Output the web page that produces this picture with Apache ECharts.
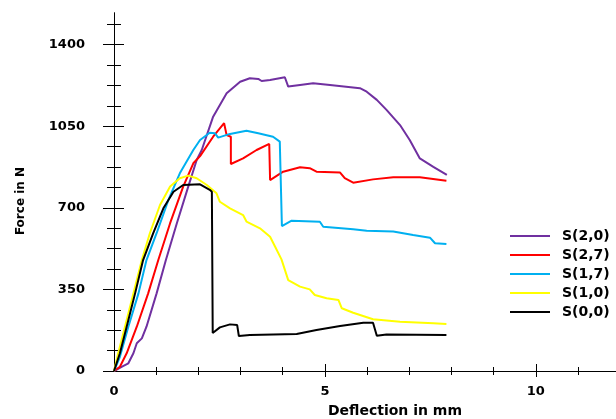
<!DOCTYPE html>
<html>
<head>
<meta charset="utf-8">
<script src="https://cdn.jsdelivr.net/npm/echarts@6/dist/echarts.min.js"></script>
<style>html,body{margin:0;padding:0;background:#fff;}#c{width:616px;height:419px;}</style>
</head>
<body>
<div id="c"></div>
<script>
// Series names and colours
const seriesNames = ['S(2,0)', 'S(2,7)', 'S(1,7)', 'S(1,0)', 'S(0,0)'];
const seriesColors = ['#7030A0', '#FF0000', '#00B0F0', '#FFFF00', '#000000'];

// Deflection (mm), Force (N) pairs
const s20 = [[0,0],[0.02,4],[0.18,18],[0.34,33],[0.46,76],[0.54,119],[0.66,140],[0.77,190],[1.01,333],[1.23,476],[1.49,634],[1.76,791],[1.96,905],[2.08,948],[2.35,1091],[2.67,1191],[2.99,1241],[3.22,1256],[3.42,1253],[3.50,1244],[3.70,1248],[4.05,1260],[4.13,1220],[4.41,1227],[4.72,1234],[5.12,1227],[5.83,1213],[5.99,1198],[6.23,1163],[6.46,1120],[6.78,1055],[7.01,991],[7.25,912],[7.57,876],[7.89,841]];
const s27 = [[0,0],[0.14,18],[0.30,76],[0.54,190],[0.81,333],[1.05,476],[1.33,634],[1.64,791],[1.88,891],[2.04,922],[2.35,1005],[2.61,1063],[2.67,1012],[2.77,1005],[2.77,888],[3.06,912],[3.38,948],[3.68,974],[3.70,819],[4.01,855],[4.41,874],[4.64,870],[4.80,855],[5.36,851],[5.47,827],[5.67,808],[6.14,822],[6.62,831],[7.25,831],[7.88,816]];
const s17 = [[0,0],[0.14,61],[0.34,190],[0.58,333],[0.77,476],[1.01,591],[1.29,734],[1.56,848],[1.88,948],[2.04,991],[2.27,1022],[2.39,1020],[2.47,1001],[2.75,1017],[3.14,1031],[3.42,1020],[3.77,1005],[3.93,984],[3.97,977],[3.98,622],[4.21,645],[4.88,640],[4.96,619],[5.67,608],[5.99,602],[6.62,598],[7.09,583],[7.49,572],[7.61,548],[7.88,545]];
const s10 = [[0,0],[0.10,76],[0.26,190],[0.46,333],[0.66,476],[0.85,591],[1.09,712],[1.33,791],[1.56,827],[1.76,838],[1.96,827],[2.20,798],[2.43,762],[2.51,726],[2.75,698],[3.06,669],[3.14,641],[3.46,612],[3.70,576],[3.82,533],[3.97,479],[4.13,390],[4.41,362],[4.64,350],[4.76,326],[5.04,312],[5.32,305],[5.40,269],[5.67,250],[6.14,222],[6.78,211],[7.57,205],[7.88,202]];
const s00 = [[0,0],[0.14,76],[0.30,190],[0.50,333],[0.69,476],[0.93,591],[1.17,698],[1.41,769],[1.64,798],[2.04,801],[2.27,777],[2.32,769],[2.34,163],[2.51,187],[2.75,200],[2.92,197],[2.96,150],[3.22,154],[4.33,159],[4.80,176],[5.36,193],[5.91,207],[6.14,207],[6.23,151],[6.46,157],[7.88,154]];
const seriesData = [s20, s27, s17, s10, s00];

// Ticks
const yMajor = [0, 350, 700, 1050, 1400];
const yMinor = [87.5, 175, 262.5, 437.5, 525, 612.5, 787.5, 875, 962.5, 1137.5, 1225, 1312.5, 1487.5];
const xLabels = [0, 5, 10];
const xMajor = [5, 10];
const xMinor = [1, 2, 3, 4, 6, 7, 8, 9, 11];
const xMax = 11.9, yMax = 1537;

const FONT = 'DejaVu Sans';
const chart = echarts.init(document.getElementById('c'));

function yAx(ticks, len, inside, main) {
  return {
    type: 'value', position: 'left', min: 0, max: yMax,
    splitLine: {show: false},
    axisLine: {show: main, onZero: false, lineStyle: {color: '#000', width: 1}},
    axisTick: {show: true, inside: inside, length: len, customValues: ticks, lineStyle: {color: '#000', width: 1}},
    axisLabel: main ? {show: true, customValues: yMajor, margin: 29, color: '#000', fontFamily: FONT, fontWeight: 'bold', fontSize: 13, formatter: v => String(v)} : {show: false}
  };
}
function xAx(ticks, len, inside, main) {
  return {
    type: 'value', position: 'bottom', min: 0, max: xMax,
    splitLine: {show: false},
    axisLine: {show: main, onZero: false, lineStyle: {color: '#000', width: 1}},
    axisTick: {show: true, inside: inside, length: len, customValues: ticks, lineStyle: {color: '#000', width: 1}},
    axisLabel: main ? {show: true, customValues: xLabels, margin: 14, color: '#000', fontFamily: FONT, fontWeight: 'bold', fontSize: 13, formatter: v => String(v)} : {show: false}
  };
}

chart.setOption({
  animation: false,
  backgroundColor: '#fff',
  grid: {left: 114, right: 0, top: 12.7, bottom: 48, containLabel: false, outerBoundsMode: 'none'},
  xAxis: [xAx(xMajor, 6, false, true), xAx(xMajor, 7, true, false), xAx(xMinor, 4, false, false), xAx(xMinor, 4, true, false)],
  yAxis: [yAx(yMajor, 11, false, true), yAx(yMajor, 10, true, false), yAx(yMinor, 7, false, false), yAx(yMinor, 7, true, false)],
  legend: {
    orient: 'vertical', left: 505, top: 224, itemWidth: 40, itemHeight: 2, itemGap: 5, icon: 'rect',
    textStyle: {fontFamily: FONT, fontWeight: 'bold', fontSize: 14, color: '#000', padding: [0, 0, 0, 7]},
    data: seriesNames
  },
  graphic: [
    {type: 'text', x: 21, y: 201, rotation: Math.PI / 2, style: {text: 'Force in N', font: 'bold 12px "DejaVu Sans"', fill: '#000', textAlign: 'center', textVerticalAlign: 'middle'}},
    {type: 'text', x: 395, y: 404, style: {text: 'Deflection in mm', font: 'bold 14px "DejaVu Sans"', fill: '#000', textAlign: 'center', textVerticalAlign: 'top'}}
  ],
  series: seriesNames.map((n, i) => ({
    name: n, type: 'line', data: seriesData[i], xAxisIndex: 0, yAxisIndex: 0,
    showSymbol: false, symbol: 'none', smooth: false,
    lineStyle: {color: seriesColors[i], width: 2},
    itemStyle: {color: seriesColors[i]}
  }))
});
</script>
</body>
</html>
